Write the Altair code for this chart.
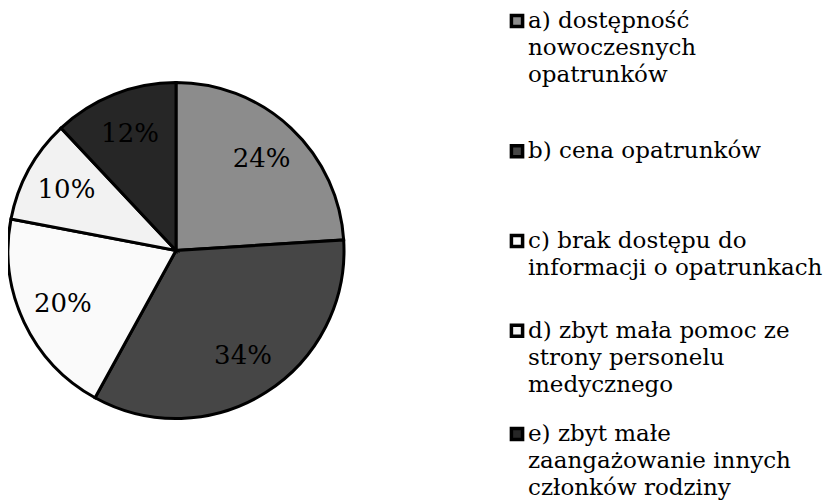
import altair as alt
import pandas as pd

# --- data ---
categories = ["a", "b", "c", "d", "e"]
labels = [
    "a) dostępność\nnowoczesnych\nopatrunków",
    "b) cena opatrunków",
    "c) brak dostępu do\ninformacji o opatrunkach",
    "d) zbyt mała pomoc ze\nstrony personelu\nmedycznego",
    "e) zbyt małe\nzaangażowanie innych\nczłonków rodziny",
]
values = [24, 34, 20, 10, 12]
colors = ["#8c8c8c", "#464646", "#fafafa", "#f2f2f2", "#262626"]

FONT = "DejaVu Serif"
LINE_H = 27

df = pd.DataFrame({
    "cat": categories,
    "label": labels,
    "value": values,
    "idx": list(range(len(categories))),
    "nlines": [l.count("\n") + 1 for l in labels],
})

color_scale = alt.Scale(domain=categories, range=colors)

base = alt.Chart(df).encode(
    theta=alt.Theta("value:Q", stack=True),
    order=alt.Order("idx:Q"),
)
arcs = base.mark_arc(outerRadius=168, stroke="black", strokeWidth=3).encode(
    color=alt.Color("cat:N", scale=color_scale, legend=None)
)
txt = base.transform_calculate(pct="datum.value + '%'").mark_text(
    radius=125, font=FONT, fontSize=26, color="black"
).encode(text="pct:N")
pie = alt.layer(arcs, txt).properties(width=340, height=485)

ybase = alt.Chart(df).transform_calculate(
    off=f"-(datum.nlines - 1) * {LINE_H} / 2"
).encode(
    y=alt.Y("cat:N", scale=alt.Scale(type="point", padding=0.3874, domain=categories), axis=None),
    yOffset=alt.YOffset("off:Q", scale=None),
)
sym = ybase.mark_point(
    shape="square", filled=True, size=125, stroke="black", strokeWidth=3.5, opacity=1
).encode(
    x=alt.value(8),
    fill=alt.Color("cat:N", scale=color_scale, legend=None),
)
lab = ybase.mark_text(
    align="left", baseline="middle", font=FONT, fontSize=23, lineBreak="\n",
    lineHeight=LINE_H, color="black"
).encode(x=alt.value(19), text="label:N")
legend = alt.layer(sym, lab).properties(width=280, height=493)

chart = alt.hconcat(pie, legend, spacing=154).properties(
    padding={"left": -6, "top": 0, "right": 0, "bottom": 0}
).configure_view(stroke=None)

chart.save("out.html", embed_options={"renderer": "svg", "actions": False})
